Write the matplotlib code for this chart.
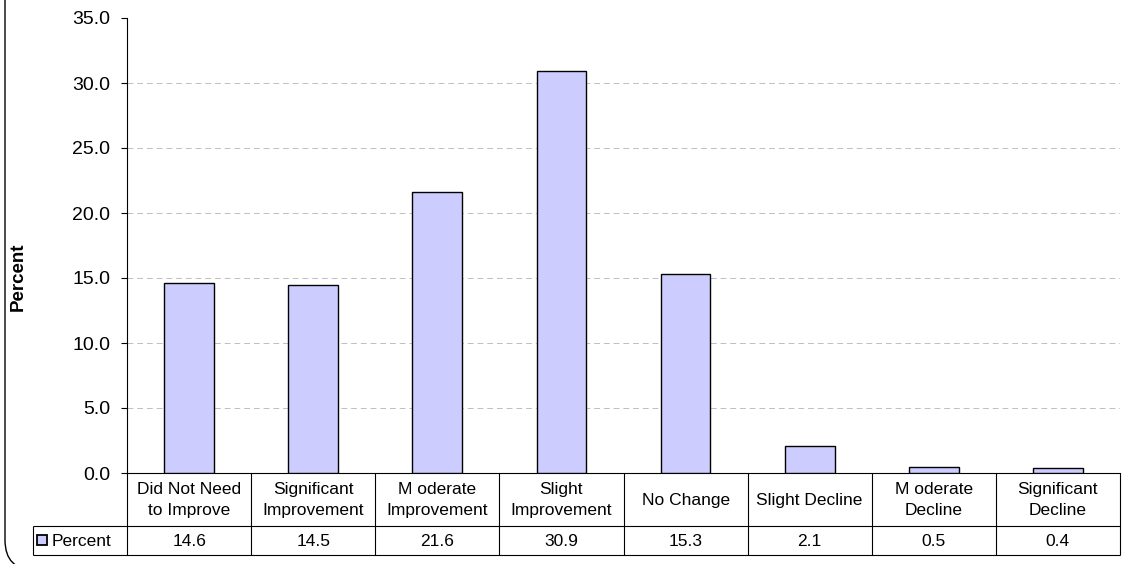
import matplotlib
matplotlib.use("Agg")
import matplotlib.pyplot as plt
from matplotlib.patches import FancyBboxPatch, Rectangle

categories = ["Did Not Need\nto Improve", "Significant\nImprovement", "M oderate\nImprovement",
              "Slight\nImprovement", "No Change", "Slight Decline", "M oderate\nDecline",
              "Significant\nDecline"]
percent = [14.6, 14.5, 21.6, 30.9, 15.3, 2.1, 0.5, 0.4]
series_name = "Percent"
yticks = [0, 5, 10, 15, 20, 25, 30, 35]

W, H = 1127, 564
bar_color = "#CCCCFF"
plt.rcParams["font.family"] = ["Liberation Sans", "DejaVu Sans"]

fig = plt.figure(figsize=(W / 100, H / 100), dpi=100)

# pixel layout
ax_l, ax_r, ax_t, ax_b = 127, 1120, 18, 473
tab_l, row_mid, tab_b = 33, 526, 555

ax = fig.add_axes([ax_l / W, 1 - ax_b / H, (ax_r - ax_l) / W, (ax_b - ax_t) / H])
n = len(categories)
x = list(range(n))
ax.bar(x, percent, width=0.4, color=bar_color, edgecolor="black", linewidth=1.0, zorder=3)
ax.set_xlim(-0.5, n - 0.5)
ax.set_ylim(0, 35)
ax.set_yticks(yticks)
ax.set_yticklabels([f"{v:.1f}" for v in yticks], fontsize=14)
ax.tick_params(axis="y", length=4, width=0.8, pad=8)
ax.set_xticks([])
for s in ["top", "right"]:
    ax.spines[s].set_visible(False)
ax.spines["left"].set_linewidth(0.8)
ax.spines["bottom"].set_linewidth(0.8)
for v in yticks[1:-1]:
    ax.axhline(v, color="#BFBFBF", linestyle=(0, (6, 4)), linewidth=0.7, zorder=1)

fig.text(18 / W, 1 - 277 / H, "Percent", rotation=90, fontsize=13.5, fontweight="bold",
         ha="center", va="center")

# data table below the axes, drawn in pixel-like coordinates
tab = fig.add_axes([tab_l / W, 1 - tab_b / H, (ax_r - tab_l) / W, (tab_b - ax_b) / H])
colw = (ax_r - ax_l) / n
tab.set_xlim(tab_l, ax_r)
tab.set_ylim(tab_b, ax_b)
tab.axis("off")
lk = dict(color="black", linewidth=0.8, solid_capstyle="butt", clip_on=False)
tab.plot([tab_l, ax_r], [row_mid, row_mid], **lk)
tab.plot([tab_l, ax_r], [tab_b, tab_b], **lk)
tab.plot([tab_l, tab_l], [row_mid, tab_b], **lk)
for i in range(n + 1):
    xx = ax_l + i * colw
    tab.plot([xx, xx], [ax_b, tab_b], **lk)
for i, (c, v) in enumerate(zip(categories, percent)):
    cx = ax_l + (i + 0.5) * colw
    tab.text(cx, (ax_b + row_mid) / 2 + 0.5, c, ha="center", va="center", fontsize=12.5,
             linespacing=1.45)
    tab.text(cx, (row_mid + tab_b) / 2 + 0.5, f"{v:.1f}", ha="center", va="center", fontsize=12.5)
tab.add_patch(Rectangle((37, 535), 10, 10, facecolor=bar_color, edgecolor="black", linewidth=1.3))
tab.text(52, (row_mid + tab_b) / 2 + 0.5, series_name, ha="left", va="center", fontsize=12.5)

# rounded chart-area frame, mostly outside the image
frame = FancyBboxPatch((0.05, -0.06), 11.5, 6.0, boxstyle="round,pad=0,rounding_size=0.3",
                       transform=fig.dpi_scale_trans, facecolor="none", edgecolor="black",
                       linewidth=1.0)
fig.patches.append(frame)

fig.savefig("out.png", dpi=100)
